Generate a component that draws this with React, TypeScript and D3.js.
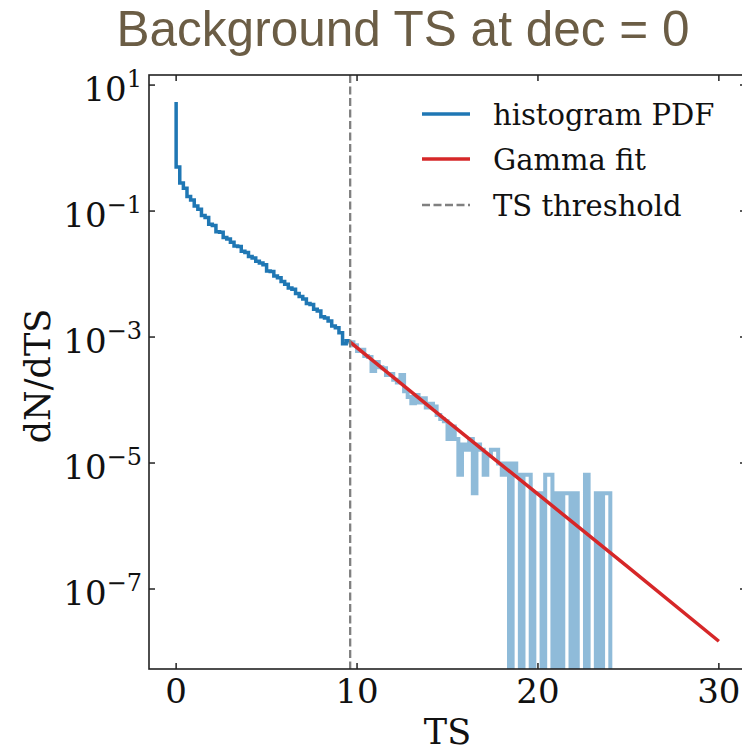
import React from 'react';
import * as d3 from 'd3';

const TITLE = 'Background TS at dec = 0';
const X_LABEL = 'TS';
const Y_LABEL = 'dN/dTS';
const X_TICKS = [0, 10, 20, 30];
const Y_TICK_EXPONENTS = [1, -1, -3, -5, -7];
const LEGEND_LABELS = ['histogram PDF', 'Gamma fit', 'TS threshold'];

// histogram: bin width in TS, value at TS = 0 and per-bin PDF values
const BIN_WIDTH = 0.2;
const PEAK_AT_ZERO = 5.4;
// bins [0,0.2) ... [9.4,9.6)  (below threshold)
const PDF_BELOW = [
  5.0e-1, 2.8e-1, 2.3e-1, 1.7e-1, 1.5e-1, 1.2e-1, 1.07e-1, 8.5e-2, 7.9e-2, 6.2e-2,
  5.9e-2, 4.7e-2, 4.6e-2, 3.8e-2, 3.6e-2, 3.2e-2, 2.8e-2, 2.75e-2, 2.3e-2, 2.2e-2,
  1.9e-2, 1.8e-2, 1.6e-2, 1.5e-2, 1.4e-2, 1.12e-2, 1.1e-2, 9.3e-3, 8.7e-3, 7.6e-3,
  6.9e-3, 6.0e-3, 5.75e-3, 4.9e-3, 4.4e-3, 4.0e-3, 3.4e-3, 3.3e-3, 2.75e-3, 2.6e-3,
  2.1e-3, 2.0e-3, 1.8e-3, 1.5e-3, 1.4e-3, 1.17e-3, 7.8e-4, 8.7e-4,
];
// bins [9.6,9.8) ... [23.8,24.0)  (above threshold)
const PDF_ABOVE = [
  8.3e-4, 7.4e-4, 6.0e-4, 6.3e-4, 5.0e-4, 4.8e-4, 2.9e-4, 4.0e-4, 3.3e-4, 3.2e-4,
  2.5e-4, 2.6e-4, 2.1e-4, 1.9e-4, 2.5e-4, 1.38e-4, 1.12e-4, 8.9e-5, 1.2e-4, 9.1e-5,
  1.07e-4, 7.6e-5, 8.7e-5, 7.9e-5, 5.8e-5, 5.0e-5, 4.6e-5, 2.4e-5, 3.8e-5, 2.4e-5,
  6.5e-6, 1.96e-5, 1.63e-5, 2.4e-5, 3.3e-6, 1.96e-5, 1.63e-5, 6.5e-6, 1.3e-5, 1.63e-5,
  1.63e-5, 9.8e-6, 6.5e-6, 9.8e-6, 0, 9.8e-6, 6.5e-6, 0, 6.5e-6, 6.5e-6,
  0, 3.3e-6, 3.3e-6, 0, 6.5e-6, 6.5e-6, 0, 3.3e-6, 0, 3.3e-6,
  3.3e-6, 0, 3.3e-6, 0, 0, 6.5e-6, 0, 0, 3.3e-6, 0,
  3.3e-6, 3.3e-6, 0,
];
const THRESHOLD = 9.62;
const FIT_TS = [9.62, 15, 20, 25, 30];
const FIT_PDF = [8.3e-4, 4.6e-5, 3.2e-6, 2.2e-7, 1.48e-8];

const W = 742;
const H = 752;
const LEFT = 149;
const RIGHT = 746;
const TOP = 75;
const BOTTOM = 669;

const BLUE = '#1f77b4';
const RED = '#d62728';
const GREY = '#808080';
const SERIF = '"DejaVu Serif", serif';

export default function App() {
  const x = d3.scaleLinear().domain([-1.5, 31.5]).range([LEFT, RIGHT]);
  const y = d3.scaleLog().domain([Math.pow(10, -8.27), Math.pow(10, 1.16)]).range([BOTTOM, TOP]);

  const line = d3
    .line<[number, number]>()
    .x((d) => x(d[0]))
    .y((d) => (d[1] > 0 ? y(d[1]) : BOTTOM + 20))
    .curve(d3.curveStepBefore);

  const darkPts: [number, number][] = [[0, PEAK_AT_ZERO]];
  PDF_BELOW.forEach((v, i) => darkPts.push([(i + 1) * BIN_WIDTH, v]));
  const startAbove = PDF_BELOW.length * BIN_WIDTH;
  const lightPts: [number, number][] = [[startAbove, PDF_BELOW[PDF_BELOW.length - 1]]];
  PDF_ABOVE.forEach((v, i) => lightPts.push([startAbove + (i + 1) * BIN_WIDTH, v]));

  const fitLine = d3
    .line<number>()
    .x((d) => x(d))
    .y((_, i) => y(FIT_PDF[i]));

  const tickLen = 6;
  const legendY = [114, 159, 205];

  return (
    <svg width={W} height={H} style={{ position: 'absolute', left: 0, top: 0, background: '#fff' }}>
      <defs>
        <clipPath id="plotClip">
          <rect x={LEFT} y={TOP} width={RIGHT - LEFT} height={BOTTOM - TOP} />
        </clipPath>
      </defs>
      <rect x={0} y={0} width={W} height={H} fill="#fff" />
      <text
        x={403}
        y={46}
        textAnchor="middle"
        fontFamily='"Liberation Sans", Arial, sans-serif'
        fontSize={49.5}
        fill="#6b5d45"
      >
        {TITLE}
      </text>

      <g clipPath="url(#plotClip)">
        <path d={line(lightPts) || ''} fill="none" stroke={BLUE} strokeOpacity={0.5} strokeWidth={4} />
        <path d={line(darkPts) || ''} fill="none" stroke={BLUE} strokeWidth={3.5} />
        <path d={fitLine(FIT_TS) || ''} fill="none" stroke={RED} strokeWidth={3.5} />
        <line x1={x(THRESHOLD)} x2={x(THRESHOLD)} y1={TOP} y2={BOTTOM} stroke={GREY} strokeWidth={2.3} strokeDasharray="8,3.5" />
      </g>

      {/* spines */}
      <rect x={LEFT} y={TOP} width={RIGHT - LEFT} height={BOTTOM - TOP} fill="none" stroke="#222" strokeWidth={1.6} />

      {/* x ticks */}
      {X_TICKS.map((t) => (
        <g key={'xt' + t}>
          <line x1={x(t)} x2={x(t)} y1={BOTTOM} y2={BOTTOM - tickLen} stroke="#222" strokeWidth={1.5} />
          <line x1={x(t)} x2={x(t)} y1={TOP} y2={TOP + tickLen} stroke="#222" strokeWidth={1.5} />
          <text x={x(t)} y={703} textAnchor="middle" fontFamily={SERIF} fontSize={34} fill="#111">
            {t}
          </text>
        </g>
      ))}

      {/* y ticks */}
      {Y_TICK_EXPONENTS.map((e) => {
        const yy = y(Math.pow(10, e));
        return (
          <g key={'yt' + e}>
            <line x1={LEFT} x2={LEFT + tickLen} y1={yy} y2={yy} stroke="#222" strokeWidth={1.5} />
            <line x1={RIGHT} x2={RIGHT - tickLen} y1={yy} y2={yy} stroke="#222" strokeWidth={1.5} />
            <text x={142} y={yy + 16} textAnchor="end" fontFamily={SERIF} fontSize={34} fill="#111">
              10
              <tspan dy={-14} fontSize={24}>
                {e < 0 ? '\u2212' + Math.abs(e) : String(e)}
              </tspan>
            </text>
          </g>
        );
      })}

      {/* axis labels */}
      <text x={x(15)} y={744} textAnchor="middle" fontFamily={SERIF} fontSize={35} fill="#111">
        {X_LABEL}
      </text>
      <text
        transform={`translate(50, ${(TOP + BOTTOM) / 2 + 4}) rotate(-90)`}
        textAnchor="middle"
        fontFamily={SERIF}
        fontSize={35}
        fill="#111"
      >
        {Y_LABEL}
      </text>

      {/* legend */}
      {LEGEND_LABELS.map((lab, i) => (
        <g key={lab}>
          {i === 2 ? (
            <line x1={422} x2={470} y1={legendY[i]} y2={legendY[i]} stroke={GREY} strokeWidth={2.3} strokeDasharray="8,3.5" />
          ) : (
            <line x1={422} x2={470} y1={legendY[i]} y2={legendY[i]} stroke={i === 0 ? BLUE : RED} strokeWidth={3.5} />
          )}
          <text x={493} y={legendY[i] + 11} fontFamily={SERIF} fontSize={29} fill="#111">
            {lab}
          </text>
        </g>
      ))}
    </svg>
  );
}
